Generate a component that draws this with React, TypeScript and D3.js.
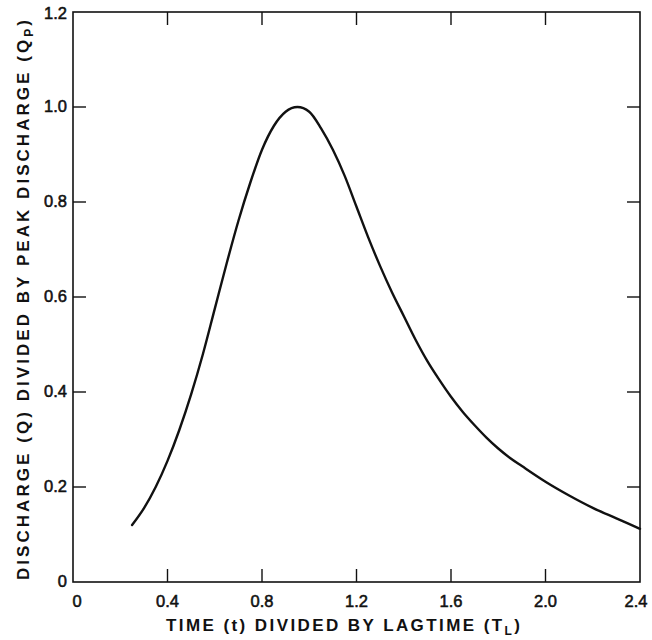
import React from "react";
import * as d3 from "d3";

const timeRatio = [0.25, 0.3, 0.35, 0.4, 0.45, 0.5, 0.55, 0.6, 0.65, 0.7, 0.75, 0.8, 0.85, 0.9, 0.95, 1.0, 1.05, 1.1, 1.15, 1.2, 1.25, 1.3, 1.35, 1.4, 1.45, 1.5, 1.55, 1.6, 1.65, 1.7, 1.75, 1.8, 1.85, 1.9, 2.0, 2.1, 2.2, 2.3, 2.4];
const dischargeRatio = [0.12, 0.155, 0.2, 0.255, 0.32, 0.395, 0.48, 0.575, 0.67, 0.76, 0.84, 0.91, 0.96, 0.99, 1.0, 0.99, 0.955, 0.91, 0.855, 0.79, 0.725, 0.665, 0.61, 0.56, 0.51, 0.465, 0.426, 0.39, 0.358, 0.33, 0.304, 0.281, 0.261, 0.244, 0.211, 0.182, 0.156, 0.134, 0.112];
const xTicks = [0, 0.4, 0.8, 1.2, 1.6, 2.0, 2.4];
const xTickLabels = ["0", "0.4", "0.8", "1.2", "1.6", "2.0", "2.4"];
const yTicks = [0, 0.2, 0.4, 0.6, 0.8, 1.0, 1.2];
const yTickLabels = ["0", "0.2", "0.4", "0.6", "0.8", "1.0", "1.2"];

export default function App() {
  const W = 652, H = 640;
  const left = 73, right = 640, top = 12, bottom = 582;
  const x = d3.scaleLinear().domain([0, 2.4]).range([left, right]);
  const y = d3.scaleLinear().domain([0, 1.2]).range([bottom, top]);
  const pts = timeRatio.map((t, i) => [t, dischargeRatio[i]] as [number, number]);
  const line = d3.line<[number, number]>().x(d => x(d[0])).y(d => y(d[1])).curve(d3.curveMonotoneX);
  const font = "'Liberation Sans', Arial, Helvetica, sans-serif";
  const tl = 13;
  return (
    <svg width={W} height={H} style={{ position: "absolute", left: 0, top: 0, background: "#fff" }}>
      <rect x={left} y={top} width={right - left} height={bottom - top} fill="none" stroke="#111" strokeWidth={1.6} />
      {xTicks.slice(1, -1).map(t => (
        <g key={"xt" + t}>
          <line x1={x(t)} x2={x(t)} y1={bottom} y2={bottom - tl} stroke="#111" strokeWidth={1.4} />
          <line x1={x(t)} x2={x(t)} y1={top} y2={top + tl} stroke="#111" strokeWidth={1.4} />
        </g>
      ))}
      {yTicks.slice(1, -1).map(t => (
        <g key={"yt" + t}>
          <line x1={left} x2={left + tl} y1={y(t)} y2={y(t)} stroke="#111" strokeWidth={1.4} />
          <line x1={right} x2={right - tl} y1={y(t)} y2={y(t)} stroke="#111" strokeWidth={1.4} />
        </g>
      ))}
      {xTicks.map((t, i) => (
        <text key={"xl" + t} x={x(t) + (i === 0 ? 4 : i === xTicks.length - 1 ? -4 : 0)} y={607} textAnchor="middle"
          fontFamily={font} fontSize={16.5} fill="#111" stroke="#111" strokeWidth={0.55}>{xTickLabels[i]}</text>
      ))}
      {yTicks.map((t, i) => (
        <text key={"yl" + t} x={67} y={y(t) + (i === yTicks.length - 1 ? 7 : 5)} textAnchor="end"
          fontFamily={font} fontSize={16.5} fill="#111" stroke="#111" strokeWidth={0.55}>{yTickLabels[i]}</text>
      ))}
      <path d={line(pts) || ""} fill="none" stroke="#111" strokeWidth={2.4} strokeLinejoin="round" strokeLinecap="round" />
      <text x={343} y={631} textAnchor="middle" fontFamily={font} fontSize={17} fontWeight="bold" fill="#111"
        textLength={354} lengthAdjust="spacing">
        TIME (t) DIVIDED BY LAGTIME (T<tspan fontSize={12} dy={4}>L</tspan><tspan dy={-4}>)</tspan>
      </text>
      <text transform="translate(29,300) rotate(-90)" textAnchor="middle" fontFamily={font} fontSize={17} fontWeight="bold" fill="#111"
        textLength={560} lengthAdjust="spacing">
        DISCHARGE (Q) DIVIDED BY PEAK DISCHARGE (Q<tspan fontSize={12} dy={4}>P</tspan><tspan dy={-4}>)</tspan>
      </text>
    </svg>
  );
}
